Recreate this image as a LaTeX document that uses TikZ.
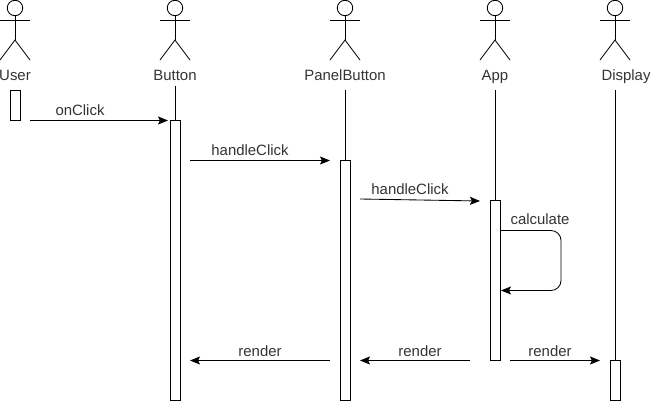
\documentclass[tikz,border=0pt]{standalone}
\usepackage{fontspec}
\setmainfont{Liberation Sans}
\usetikzlibrary{arrows.meta,calc}
\definecolor{txt}{HTML}{333333}
\tikzset{
  x=0.75pt,y=-0.75pt,
  line/.style={draw=black,line width=0.65pt},
  msg/.style={line,-{Stealth[length=7.5pt,width=6pt,inset=1.5pt]}},
  lbl/.style={text=txt,font=\fontsize{11.2pt}{13pt}\selectfont,inner sep=0pt,anchor=base},
  head/.style={line,circle,minimum size=11.6pt,inner sep=0pt},
  activation/.style={line,fill=white,minimum width=7.5pt,inner sep=0pt,anchor=north},
}
\newcommand{\actor}[4]{% name, x, label, label x
  \node[head] (#1head) at (#2,8) {};
  \coordinate (#1neck) at (#2,20);
  \coordinate (#1hip) at (#2,40);
  \coordinate (#1armL) at ($(#1neck)+(-15,0)$);
  \coordinate (#1armR) at ($(#1neck)+(15,0)$);
  \coordinate (#1legL) at ($(#1hip)+(-15,20)$);
  \coordinate (#1legR) at ($(#1hip)+(15,20)$);
  \draw[line] (#1head) -- (#1hip);
  \draw[line] (#1armL) -- (#1armR);
  \draw[line] (#1legL) -- (#1hip) -- (#1legR);
  \node[lbl] (#1label) at (#4,81) {#3};
}
\begin{document}
\begin{tikzpicture}
\useasboundingbox (0,0) rectangle (652,402);
\actor{user}{15}{User}{15}
\actor{button}{175}{Button}{175}
\actor{panel}{345}{PanelButton}{345}
\actor{app}{495}{App}{495}
\actor{display}{615}{Display}{626}
% lifeline starts
\coordinate (buttontop) at (175,86);
\coordinate (paneltop) at (345,90);
\coordinate (apptop) at (495,90);
\coordinate (displaytop) at (615,90);
% activations
\node[activation,minimum height=22.5pt] (userbox) at (15,90) {};
\node[activation,minimum height=210pt] (buttonbox) at (175,120) {};
\node[activation,minimum height=180pt] (panelbox) at (345,160) {};
\node[activation,minimum height=120pt] (appbox) at (495,200) {};
\node[activation,minimum height=30pt] (displaybox) at (615,360) {};
% lifelines
\draw[line] (buttontop) -- (buttonbox.north);
\draw[line] (paneltop) -- (panelbox.north);
\draw[line] (apptop) -- (appbox.north);
\draw[line] (displaytop) -- (displaybox.north);
% message ends
\coordinate (m1a) at (30,120.5);  \coordinate (m1b) at (168,120.5);
\coordinate (m2a) at (190,160.5); \coordinate (m2b) at (330,160.5);
\coordinate (m3a) at (360,199); \coordinate (m3b) at (480,201);
\coordinate (m4a) at (500,230.5); \coordinate (m4c) at (561,230.5); \coordinate (m4d) at (561,290.5); \coordinate (m4b) at (501,290.5);
\coordinate (m5a) at (330,360.5); \coordinate (m5b) at (190,360.5);
\coordinate (m6a) at (470,360.5); \coordinate (m6b) at (360,360.5);
\coordinate (m7a) at (510,360.5); \coordinate (m7b) at (600,360.5);
\draw[msg] (m1a) -- (m1b);
\draw[msg] (m2a) -- (m2b);
\draw[msg] (m3a) -- (m3b);
\draw[msg,rounded corners=7.5pt] (m4a) -- (m4c) -- (m4d) -- (m4b);
\draw[msg] (m5a) -- (m5b);
\draw[msg] (m6a) -- (m6b);
\draw[msg] (m7a) -- (m7b);
% message labels
\node[lbl] (l1) at (80,116) {onClick};
\node[lbl] (l2) at (250,156) {handleClick};
\node[lbl] (l3) at (410,195) {handleClick};
\node[lbl] (l4) at (540,225) {calculate};
\node[lbl] (l5) at (260,356) {render};
\node[lbl] (l6) at (420,356) {render};
\node[lbl] (l7) at (550,356) {render};
\end{tikzpicture}
\end{document}
